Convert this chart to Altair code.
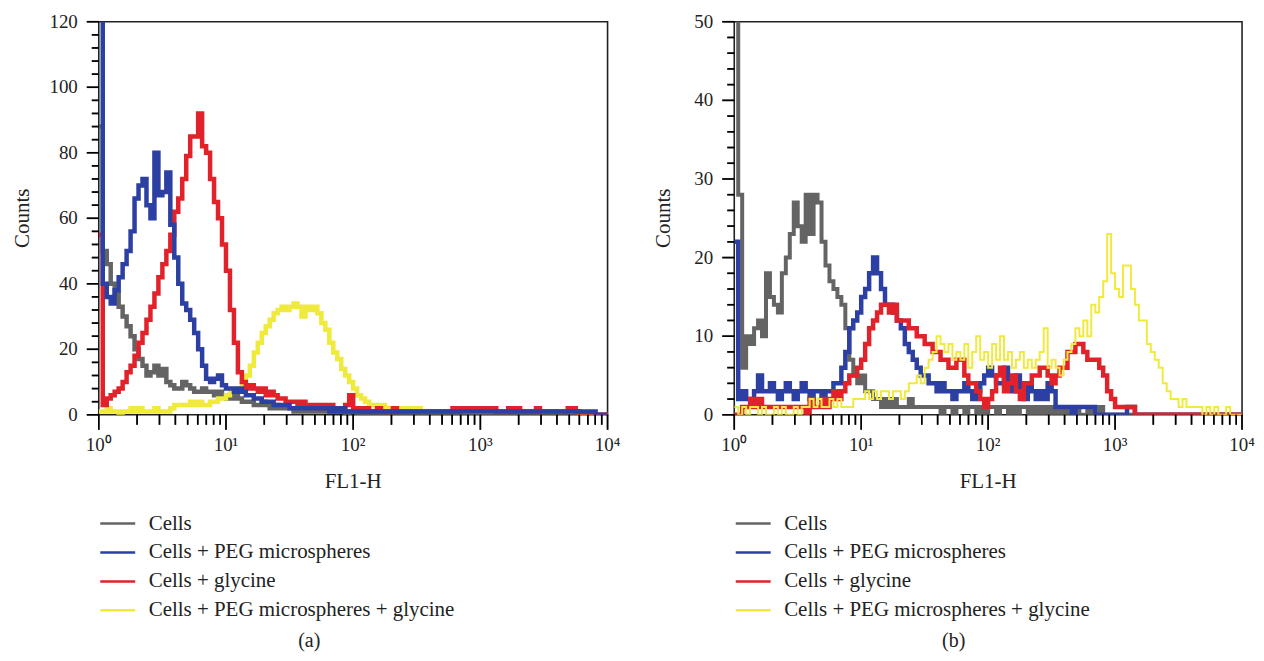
import altair as alt
import pandas as pd

SERIES = ["Cells", "Cells + PEG microspheres", "Cells + glycine",
          "Cells + PEG microspheres + glycine"]
COLORS = ["#646464", "#2c3fa2", "#e2222b", "#f0ea3c"]
FONT = "Liberation Serif"
TEXT_COLOR = "#222"

# instrument channels: 32 per decade over 4 decades (left edges) + end edge
BINS_PER_DECADE = 32
N_BINS = 128
edges = [10 ** (i / BINS_PER_DECADE) for i in range(N_BINS)] + [10 ** 4]

x_minor_ticks = [m * 10 ** k for k in range(4) for m in range(2, 10)]
x_major_ticks = [1, 10, 100, 1000, 10000]
x_tick_labels = ["10\u2070", "10\u00b9", "10\u00b2", "10\u00b3", "10\u2074"]
x_title = "FL1-H"
y_title = "Counts"

# ---------------- panel (a) counts per channel ----------------
a_cells = [88, 50, 46, 40, 37, 33, 30, 27, 24, 20,
           17, 15, 12, 13, 15, 12, 14, 10, 9, 8,
           8, 10, 9, 8, 7, 7, 8, 7, 7, 6,
           7, 6, 5, 5, 6, 5, 4, 4, 4, 3,
           3, 4, 3, 2, 3, 2, 2, 2, 2, 1,
           2, 1, 1, 2, 1, 1, 1, 2, 1, 1,
           1, 1, 0, 1, 1, 0, 1, 0, 0, 1,
           0, 0, 1, 0, 0, 0, 0, 1, 0, 0,
           0, 0, 0, 0, 0, 0, 0, 0, 0, 0,
           0, 0, 0, 0, 0, 0, 0, 0, 0, 0,
           0, 0, 0, 0, 0, 0, 0, 0, 0, 0,
           0, 0, 0, 0, 0, 0, 0, 0, 0, 0,
           0, 0, 0, 0, 0, 0, 0, 0]
a_peg = [130, 40, 36, 34, 38, 42, 46, 50, 56, 66,
         70, 72, 64, 60, 80, 67, 68, 74, 58, 48,
         40, 34, 32, 29, 25, 20, 15, 11, 10, 11,
         12, 9, 8, 8, 7, 8, 7, 6, 6, 5,
         5, 4, 4, 4, 3, 3, 3, 3, 2, 2,
         2, 2, 2, 2, 2, 2, 2, 2, 1, 2,
         1, 2, 1, 1, 1, 1, 1, 1, 1, 1,
         1, 1, 1, 1, 1, 1, 1, 1, 1, 1,
         1, 1, 1, 1, 1, 1, 1, 1, 1, 1,
         1, 1, 1, 1, 1, 1, 1, 1, 1, 1,
         1, 1, 1, 1, 1, 1, 1, 1, 1, 1,
         1, 1, 1, 1, 1, 1, 1, 1, 1, 1,
         1, 1, 1, 1, 1, 0, 0, 0]
a_gly = [55, 3, 5, 6, 7, 8, 10, 13, 15, 18,
         22, 25, 29, 33, 37, 42, 46, 50, 55, 62,
         66, 72, 79, 85, 85, 92, 82, 80, 72, 65,
         60, 52, 44, 32, 22, 13, 10, 8, 9, 8,
         7, 8, 6, 7, 6, 5, 5, 4, 4, 4,
         3, 4, 3, 3, 3, 2, 3, 2, 3, 2,
         2, 2, 3, 6, 2, 2, 1, 2, 1, 1,
         2, 1, 1, 1, 2, 1, 1, 1, 1, 1,
         1, 1, 1, 1, 1, 1, 1, 1, 1, 2,
         1, 2, 2, 2, 2, 2, 2, 2, 2, 2,
         1, 1, 1, 2, 1, 2, 1, 1, 1, 1,
         2, 1, 1, 1, 1, 1, 1, 1, 2, 2,
         1, 0, 0, 0, 0, 0, 0, 0]
a_both = [1, 1, 2, 1, 1, 0, 1, 1, 2, 1,
          2, 1, 1, 1, 2, 1, 1, 1, 2, 3,
          3, 3, 3, 4, 3, 4, 3, 3, 4, 4,
          5, 5, 6, 7, 7, 8, 10, 12, 15, 19,
          22, 25, 27, 29, 31, 32, 33, 32, 33, 34,
          33, 30, 33, 32, 33, 31, 28, 26, 22, 19,
          17, 14, 12, 10, 8, 6, 5, 4, 3, 3,
          2, 3, 2, 2, 2, 2, 2, 2, 1, 2,
          2, 1, 1, 1, 1, 1, 1, 1, 1, 1,
          1, 1, 1, 1, 1, 1, 1, 1, 1, 1,
          1, 1, 1, 1, 1, 1, 1, 1, 1, 1,
          1, 1, 1, 1, 1, 1, 1, 1, 2, 1,
          1, 0, 0, 0, 0, 0, 0, 0]

# ---------------- panel (b) counts per channel ----------------
b_cells = [55, 28, 6, 10, 9, 11, 12, 10, 18, 15,
           14, 13, 18, 20, 23, 27, 24, 22, 28, 23,
           28, 27, 22, 19, 17, 16, 15, 14, 11, 7,
           5, 4, 5, 3, 3, 2, 2, 1, 2, 1,
           2, 1, 1, 1, 2, 1, 1, 1, 1, 1,
           1, 1, 0, 1, 1, 0, 1, 1, 0, 1,
           1, 0, 1, 0, 1, 1, 0, 1, 1, 0,
           1, 0, 1, 1, 0, 1, 0, 1, 0, 1,
           0, 1, 0, 1, 0, 0, 1, 0, 0, 1,
           0, 0, 1, 0, 0, 0, 0, 0, 0, 0,
           0, 0, 0, 0, 0, 0, 0, 0, 0, 0,
           0, 0, 0, 0, 0, 0, 0, 0, 0, 0,
           0, 0, 0, 0, 0, 0, 0, 0]
b_peg = [22, 2, 3, 2, 2, 3, 5, 3, 3, 4,
         3, 2, 3, 4, 3, 2, 3, 4, 3, 2,
         3, 3, 2, 3, 3, 4, 4, 6, 8, 11,
         12, 13, 15, 16, 18, 20, 18, 16, 14, 14,
         13, 12, 11, 9, 8, 7, 6, 5, 5, 4,
         4, 3, 4, 3, 3, 2, 3, 3, 4, 3,
         2, 3, 4, 5, 6, 5, 4, 4, 6, 4,
         3, 5, 3, 2, 4, 3, 2, 3, 2, 4,
         3, 1, 1, 1, 1, 0, 1, 1, 1, 1,
         1, 0, 0, 0, 0, 0, 0, 0, 0, 1,
         1, 0, 0, 0, 0, 0, 0, 0, 0, 0,
         0, 0, 0, 0, 0, 0, 0, 0, 0, 0,
         0, 0, 0, 0, 0, 0, 0, 0]
b_gly = [0, 0, 1, 1, 2, 1, 2, 1, 1, 1,
         1, 1, 1, 1, 1, 1, 1, 1, 0, 2,
         1, 1, 2, 1, 2, 3, 2, 3, 4, 5,
         5, 6, 7, 9, 11, 12, 13, 14, 14, 13,
         14, 12, 12, 12, 11, 11, 10, 10, 9, 9,
         8, 8, 7, 7, 6, 6, 7, 7, 5, 4,
         4, 3, 2, 1, 2, 3, 5, 6, 3, 4,
         5, 3, 2, 4, 4, 5, 5, 6, 6, 5,
         4, 5, 6, 6, 8, 8, 9, 9, 8, 7,
         7, 7, 6, 5, 3, 2, 1, 1, 1, 1,
         1, 0, 0, 0, 0, 0, 0, 0, 0, 0,
         0, 0, 0, 0, 0, 0, 0, 0, 0, 0,
         0, 0, 0, 0, 0, 0, 0, 0]
b_both = [1, 0, 1, 0, 1, 1, 0, 1, 0, 0,
          1, 0, 1, 0, 0, 1, 0, 1, 1, 2,
          1, 2, 1, 1, 2, 1, 2, 1, 1, 1,
          2, 2, 2, 3, 2, 3, 2, 3, 3, 2,
          3, 3, 2, 3, 4, 4, 5, 4, 6, 7,
          8, 10, 9, 8, 9, 7, 8, 7, 9, 6,
          8, 10, 7, 8, 6, 9, 7, 10, 7, 8,
          6, 7, 8, 6, 7, 6, 7, 8, 11, 6,
          7, 6, 5, 7, 8, 9, 11, 10, 12, 10,
          14, 13, 15, 17, 23, 18, 16, 15, 19, 19,
          16, 14, 12, 12, 9, 8, 7, 6, 4, 3,
          2, 2, 1, 2, 1, 1, 1, 1, 0, 1,
          0, 1, 0, 0, 1, 0, 0, 0]


def panel_df(series_lists):
    rows = []
    for name, vals in zip(SERIES, series_lists):
        vv = list(vals) + [vals[-1]]
        for x, v in zip(edges, vv):
            rows.append({"x": x, "count": v, "series": name})
    return pd.DataFrame(rows)


def tick_segments(ymax, w, h, x_ticks_len, y_ticks_len):
    """Short tick segments, positioned at the tick values through the scales."""
    rows = []
    tid = 0
    for ticks, length in x_ticks_len:
        for v in ticks:
            rows.append({"x": v, "count": 0, "tid": tid})
            rows.append({"x": v, "count": -length * ymax / h, "tid": tid})
            tid += 1
    for ticks, length in y_ticks_len:
        for v in ticks:
            rows.append({"x": 1, "count": v, "tid": tid})
            rows.append({"x": 10 ** (-length * 4 / w), "count": v, "tid": tid})
            tid += 1
    return pd.DataFrame(rows)


def make_panel(df, ymax, ystep, ylabstep, widths, order, caption, cap_x,
               ytitle_x, w, h):
    color = alt.Color(
        "series:N",
        scale=alt.Scale(domain=SERIES, range=COLORS),
        title=None,
        legend=alt.Legend(orient="none", legendX=0, legendY=484,
                          symbolType="M-1,0H1", symbolSize=1225,
                          symbolStrokeWidth=2.5, labelFont=FONT,
                          labelFontSize=21, labelColor=TEXT_COLOR,
                          labelOffset=12, rowPadding=0, labelLimit=500),
    )
    xscale = alt.Scale(type="log", domain=[1, 10000], nice=False)
    yscale = alt.Scale(domain=[0, ymax], nice=False)
    X = lambda: alt.X("x:Q", scale=xscale, axis=None)
    Y = lambda: alt.Y("count:Q", scale=yscale, axis=None)
    layers = []
    for name in order:
        layers.append(
            alt.Chart(df)
            .transform_filter(alt.datum.series == name)
            .mark_line(interpolate="step-after", strokeWidth=widths[name], clip=True)
            .encode(x=X(), y=Y(), color=color)
        )
    y_minor = [v for v in range(0, ymax + 1, ystep) if v % ylabstep != 0]
    y_major = list(range(0, ymax + 1, ylabstep))
    y_labels = [str(v) for v in y_major]
    seg = tick_segments(ymax, w, h,
                        [(x_minor_ticks, 10), (x_major_ticks, 15)],
                        [(y_minor, 7), (y_major, 12)])
    axis_layers = [
        # tick marks as short line segments
        alt.Chart(seg)
        .mark_line(strokeWidth=1.6, color="#000", clip=False)
        .encode(x=X(), y=Y(), detail="tid:N"),
        # same ticks as thin rects (identical positions)
        alt.Chart(pd.DataFrame({"x": x_minor_ticks}))
        .mark_tick(orient="vertical", size=10, thickness=1.6, color="#000", clip=False)
        .encode(x=X(), y=alt.value(h + 5)),
        alt.Chart(pd.DataFrame({"x": x_major_ticks}))
        .mark_tick(orient="vertical", size=15, thickness=1.6, color="#000", clip=False)
        .encode(x=X(), y=alt.value(h + 7.5)),
        alt.Chart(pd.DataFrame({"count": y_minor}))
        .mark_tick(orient="horizontal", size=7, thickness=1.6, color="#000", clip=False)
        .encode(y=Y(), x=alt.value(-3.5)),
        alt.Chart(pd.DataFrame({"count": y_major}))
        .mark_tick(orient="horizontal", size=12, thickness=1.6, color="#000", clip=False)
        .encode(y=Y(), x=alt.value(-6)),
        # labels and titles
        alt.Chart(pd.DataFrame({"x": x_major_ticks, "lab": x_tick_labels}))
        .mark_text(font=FONT, fontSize=19, color=TEXT_COLOR, baseline="top", align="center")
        .encode(x=X(), y=alt.value(h + 21), text="lab:N"),
        alt.Chart(pd.DataFrame({"count": y_major, "lab": y_labels}))
        .mark_text(font=FONT, fontSize=19, color=TEXT_COLOR, baseline="middle", align="right")
        .encode(y=Y(), x=alt.value(-21), text="lab:N"),
        alt.Chart(pd.DataFrame({"t": [x_title]}))
        .mark_text(font=FONT, fontSize=21, color=TEXT_COLOR, baseline="middle", align="center")
        .encode(text="t:N", x=alt.value(w / 2), y=alt.value(h + 67)),
        alt.Chart(pd.DataFrame({"t": [y_title]}))
        .mark_text(font=FONT, fontSize=21, color=TEXT_COLOR, baseline="middle",
                   align="center", angle=270)
        .encode(text="t:N", x=alt.value(ytitle_x), y=alt.value(h / 2)),
    ]
    cap = (
        alt.Chart(pd.DataFrame({"t": [caption]}))
        .mark_text(font=FONT, fontSize=20, color=TEXT_COLOR, baseline="middle")
        .encode(text="t:N", x=alt.value(cap_x), y=alt.value(621))
    )
    return alt.layer(*layers, *axis_layers, cap).properties(width=w, height=h)


df_a = panel_df([a_cells, a_peg, a_gly, a_both])
df_b = panel_df([b_cells, b_peg, b_gly, b_both])

left = make_panel(
    df_a, 120, 4, 20,
    {SERIES[0]: 4.5, SERIES[1]: 4.5, SERIES[2]: 4.5, SERIES[3]: 4.5},
    [SERIES[0], SERIES[3], SERIES[2], SERIES[1]], "(a)", 211, -76, 510, 394)
right = make_panel(
    df_b, 50, 2, 10,
    {SERIES[0]: 4, SERIES[1]: 4.5, SERIES[2]: 4.5, SERIES[3]: 2},
    [SERIES[0], SERIES[1], SERIES[2], SERIES[3]], "(b)", 220, -70, 509, 394)

chart = (
    alt.hconcat(left, right, spacing=31)
    .resolve_scale(color="independent")
    .properties(padding={"left": 3, "top": 3, "right": 0, "bottom": 0})
    .configure_view(stroke="#222", strokeWidth=1.6)
)

chart.save("out.html", embed_options={"renderer": "svg", "actions": False})
